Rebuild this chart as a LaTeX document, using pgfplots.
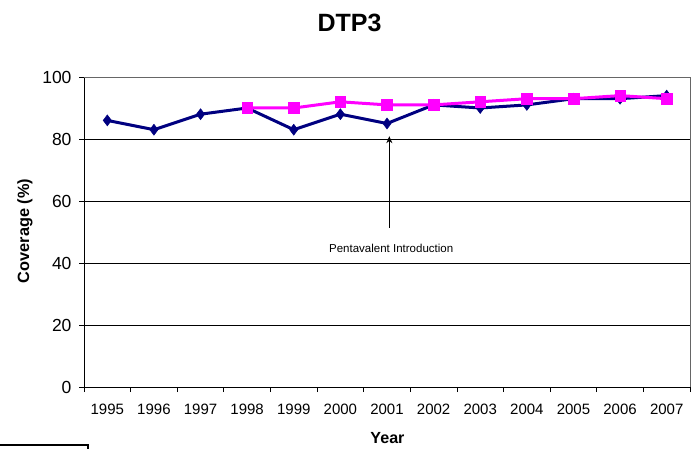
\documentclass[border=0pt]{standalone}
\usepackage{pgfplots}
\pgfplotsset{compat=1.18}
\usetikzlibrary{arrows.meta}
\usepackage{fontspec}
\setmainfont{Liberation Sans}
\definecolor{dtpnavy}{RGB}{0,0,128}
\definecolor{dtpmag}{RGB}{255,0,255}
\begin{document}
\begin{tikzpicture}[x=1pt,y=1pt]
\useasboundingbox (0,0) rectangle (694,448);
\begin{axis}[
  at={(84pt,61pt)}, anchor=south west,
  scale only axis, width=606pt, height=310pt,
  xmin=1994.5, xmax=2007.5, ymin=0, ymax=100,
  axis x line*=bottom, axis y line*=left,
  axis line style={black, line width=0.8pt},
  xtick={1994.5,1995.5,...,2007.5},
  x tick label as interval,
  xticklabel={\pgfmathparse{\tick+0.5}\pgfmathprintnumber[fixed,precision=0,1000 sep={}]{\pgfmathresult}},
  ytick={0,20,40,60,80,100},
  tick align=outside, major tick length=5pt,
  tick style={black, line width=0.8pt},
  ymajorgrids, grid style={black, line width=0.7pt},
  /pgf/number format/assume math mode=true,
  xticklabel style={font=\fontsize{15}{18}\selectfont, yshift=-8pt},
  yticklabel style={font=\fontsize{17.5}{20}\selectfont, xshift=-4pt},
  clip=false,
]
\draw[gray!80!black, line width=0.8pt] (rel axis cs:0,1) -- (rel axis cs:1,1) -- (rel axis cs:1,0);
\addplot[dtpnavy, line width=3pt, mark=diamond*, mark size=5.5pt, mark options={solid, fill=dtpnavy, line width=0.5pt}] coordinates {
 (1995,86) (1996,83) (1997,88) (1998,90) (1999,83) (2000,88) (2001,85)
 (2002,91) (2003,90) (2004,91) (2005,93) (2006,93) (2007,94)
};
\addplot[dtpmag, line width=3pt, mark=square*, mark size=5.3pt, mark options={solid, fill=dtpmag, line width=0.5pt}] coordinates {
 (1998,90) (1999,90) (2000,92) (2001,91) (2002,91) (2003,92) (2004,93)
 (2005,93) (2006,94) (2007,93)
};
\draw[-{Stealth[length=7pt,width=6pt]}, black, line width=0.9pt] (axis cs:2001.05,51.4) -- (axis cs:2001.05,80.9);
\node[font=\fontsize{11.5}{14}\selectfont, inner sep=0pt] at (axis cs:2001.09,44.7) {Pentavalent Introduction};
\end{axis}
\node[font=\bfseries\fontsize{25}{30}\selectfont, inner sep=0pt] at (349.5,425.5) {DTP3};
\node[font=\bfseries\fontsize{16.3}{20}\selectfont, inner sep=0pt, rotate=90] at (25,217) {Coverage (\%)};
\node[font=\bfseries\fontsize{16.1}{20}\selectfont, inner sep=0pt] at (387.5,10) {Year};
\draw[black, line width=1.6pt] (-2,3) -- (88,3) -- (88,-2);
\end{tikzpicture}
\end{document}
